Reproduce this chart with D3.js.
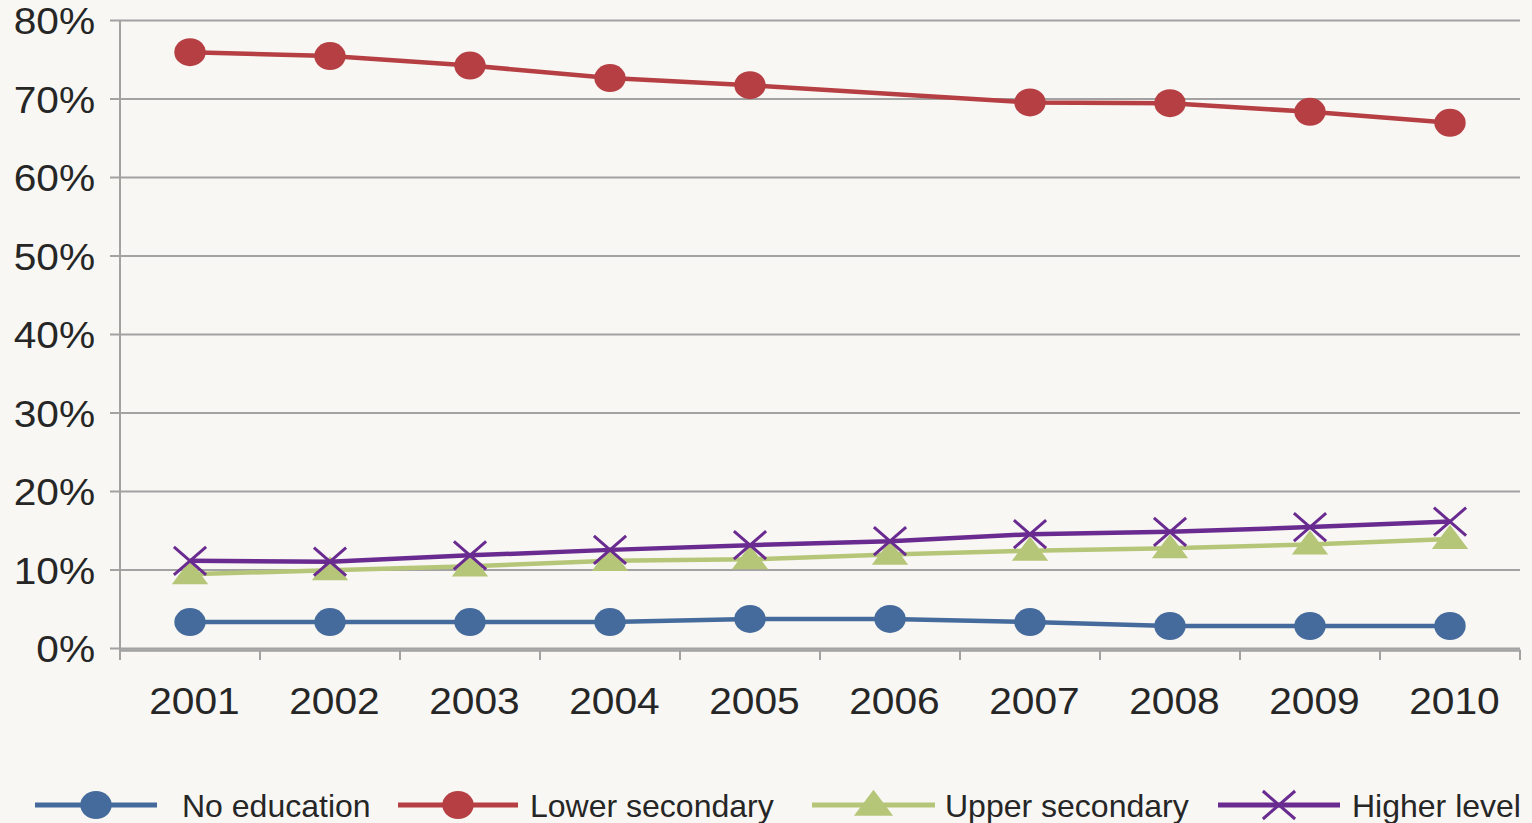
<!DOCTYPE html>
<html>
<head>
<meta charset="utf-8">
<script src="https://cdn.jsdelivr.net/npm/d3@7"></script>
<style>
html,body{margin:0;padding:0;background:#f8f7f3;}
svg{display:block;}
text{font-family:"Liberation Sans",Arial,Helvetica,sans-serif;fill:#262626;}
</style>
</head>
<body>
<svg id="chart" width="1532" height="823"></svg>
<script>
const years = ["2001","2002","2003","2004","2005","2006","2007","2008","2009","2010"];
const yTicks = [0,10,20,30,40,50,60,70,80];
const seriesNames = ["No education","Lower secondary","Upper secondary","Higher level"];
const noEducation    = [3.3,3.3,3.3,3.3,3.7,3.7,3.3,2.8,2.8,2.8];
const lowerSecondary = [75.9,75.4,74.2,72.6,71.7,null,69.5,69.4,68.3,66.9];
const upperSecondary = [9.4,9.9,10.4,11.1,11.3,11.9,12.4,12.7,13.2,13.9];
const higherLevel    = [11.1,11.0,11.8,12.5,13.1,13.6,14.5,14.8,15.4,16.1];
const seriesColors = ["#456b9d","#b53f43","#b6c678","#6a2b90"];
const seriesMarkers = ["circle","circle","triangle","cross"];

(function(){
const series = seriesNames.map((n,i)=>({
  name:n,
  values:[noEducation,lowerSecondary,upperSecondary,higherLevel][i],
  color:seriesColors[i], marker:seriesMarkers[i]
}));

const svg = d3.select("#chart");
const mLeft=120, mRight=1520, mTop=20, mBottom=648;

const x = d3.scaleBand().domain(years).range([mLeft,mRight]).padding(0);
const y = d3.scaleLinear().domain([0,80]).range([mBottom,mTop]);

// gridlines + y axis
const yAxis = d3.axisLeft(y).tickValues(yTicks).tickSize(-(mRight-mLeft)).tickPadding(14).tickFormat(d=>d+"%");
const gy = svg.append("g").attr("transform",`translate(${mLeft},0)`).call(yAxis);
gy.select(".domain").remove();
gy.selectAll(".tick line").attr("stroke","#a2a2a2").attr("stroke-width",2).attr("x1",-10);
gy.selectAll(".tick text").attr("font-size",36).attr("fill","#262626").attr("x",-22)
  .attr("dy","0.38em").attr("transform","scale(1.13,1)");

svg.append("line").attr("x1",mLeft).attr("x2",mLeft).attr("y1",mTop).attr("y2",mBottom+4)
  .attr("stroke","#a2a2a2").attr("stroke-width",2);

// x axis
const xAxis = d3.axisBottom(x).tickSize(0).tickPadding(38);
const gx = svg.append("g").attr("transform",`translate(0,${mBottom+2})`).call(xAxis);
gx.select(".domain").attr("stroke","#a2a2a2").attr("stroke-width",2.5);
gx.selectAll(".tick text").attr("font-size",37).attr("fill","#262626").attr("x",4)
  .attr("transform","scale(1.1,1)");
const bounds = years.map(d=>x(d)).concat([x(years[years.length-1])+x.bandwidth()]);
gx.selectAll(".btick").data(bounds).enter().append("line")
  .attr("x1",d=>d).attr("x2",d=>d).attr("y1",0).attr("y2",10)
  .attr("stroke","#a2a2a2").attr("stroke-width",2);

const cx = d => x(d)+x.bandwidth()/2;

function drawMarker(g, type, color, size){
  if(type==="circle"){
    g.append("ellipse").attr("rx",size*1.12).attr("ry",size).attr("fill",color);
  } else if(type==="triangle"){
    const p = d3.symbol().type(d3.symbolTriangle).size(size*size*2.0)();
    g.append("path").attr("d",p).attr("fill",color).attr("transform","translate(0,2) scale(1.3,1)");
  } else if(type==="cross"){
    const w=size*1.15, h=size;
    g.append("path").attr("d",`M${-w},${-h}L${w},${h}M${-w},${h}L${w},${-h}`)
      .attr("stroke",color).attr("stroke-width",3).attr("fill","none");
  }
}

const line = d3.line().x(d=>cx(d.year)).y(d=>y(d.v));

series.forEach(s=>{
  const pts = years.map((yr,i)=>({year:yr,v:s.values[i]})).filter(d=>d.v!==null);
  svg.append("path").datum(pts).attr("d",line).attr("fill","none")
    .attr("stroke",s.color).attr("stroke-width",4.5).attr("stroke-linejoin","round");
  const size = s.marker==="circle"?14:(s.marker==="triangle"?13:14);
  pts.forEach(p=>{
    const g = svg.append("g").attr("transform",`translate(${cx(p.year)},${y(p.v)})`);
    drawMarker(g,s.marker,s.color,size);
  });
});

// legend
const legendItems = [
  {lx1:35,lx2:157,text:182},
  {lx1:398,lx2:518,text:530},
  {lx1:812,lx2:935,text:945},
  {lx1:1218,lx2:1340,text:1352}
];
const ly = 805;
series.forEach((s,i)=>{
  const it = legendItems[i];
  svg.append("line").attr("x1",it.lx1).attr("x2",it.lx2).attr("y1",ly).attr("y2",ly)
    .attr("stroke",s.color).attr("stroke-width",5);
  const g = svg.append("g").attr("transform",`translate(${(it.lx1+it.lx2)/2},${ly})`);
  drawMarker(g,s.marker,s.color,14);
  svg.append("text").attr("x",it.text).attr("y",817).attr("font-size",32)
    .attr("fill","#262626").text(s.name);
});
})();
</script>
</body>
</html>
